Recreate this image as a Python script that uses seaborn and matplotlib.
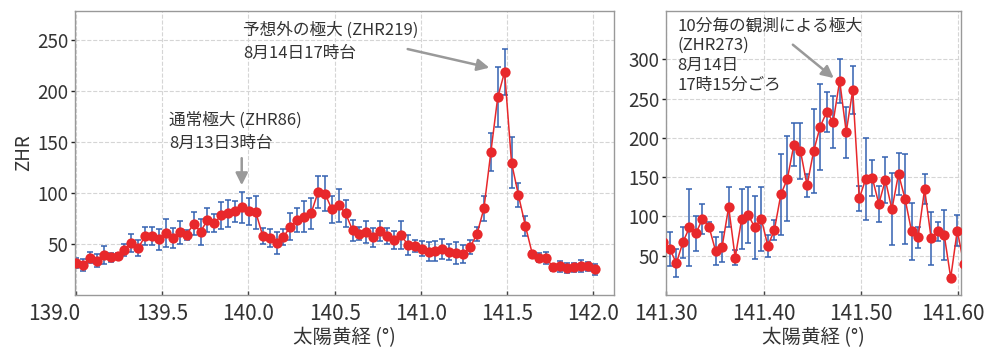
import numpy as np
import matplotlib
matplotlib.use("Agg")
import matplotlib.pyplot as plt
import matplotlib.transforms as mtransforms
import seaborn as sns

# hourly ZHR (left) and 10-minute ZHR (right)
lon_hour = [139.000, 139.040, 139.080, 139.120, 139.160, 139.201, 139.241, 139.281, 139.321, 139.361,
            139.401, 139.441, 139.481, 139.521, 139.561, 139.602, 139.642, 139.682, 139.722, 139.762,
            139.802, 139.842, 139.882, 139.922, 139.962, 140.003, 140.043, 140.083, 140.123, 140.163,
            140.203, 140.243, 140.283, 140.323, 140.363, 140.404, 140.444, 140.484, 140.524, 140.564,
            140.604, 140.644, 140.684, 140.724, 140.764, 140.805, 140.845, 140.885, 140.925, 140.965,
            141.005, 141.045, 141.085, 141.125, 141.165, 141.206, 141.246, 141.286, 141.326, 141.366,
            141.406, 141.446, 141.486, 141.526, 141.566, 141.607, 141.647, 141.687, 141.727, 141.767,
            141.807, 141.847, 141.887, 141.927, 141.967, 142.008]
zhr_hour = [31, 29.5, 36.5, 33.5, 39.5, 37, 38, 44, 51, 46,
            58, 58, 54.5, 61, 56, 61.5, 59, 70, 62, 73.5,
            70.5, 78, 80, 82, 86, 82, 81, 58, 56, 51,
            57, 67, 73.5, 77, 80, 101, 99.5, 84, 88, 80,
            63.5, 60, 62, 56.5, 63, 58, 54, 59, 49, 48,
            45.5, 42.5, 43, 45, 42, 41, 40.5, 47, 60, 85,
            140, 194, 219, 130, 98, 67.5, 40, 36.5, 36.5, 27,
            28, 26.5, 27, 28.5, 28, 25]
err_hour = [5, 6, 5.5, 6.5, 9, 4.5, 3, 6, 9, 8,
            9, 9, 10, 14, 10, 11, 5, 11, 13, 12,
            9, 13, 13, 10.5, 15.5, 13.5, 16, 7.5, 9, 11,
            7.5, 13.5, 12, 15, 15, 16, 17.5, 13, 16, 13,
            10.5, 6.5, 11, 9, 10, 8, 9, 13.5, 9.5, 6,
            7.5, 9, 10, 9.5, 8, 11, 9, 6.5, 7, 12,
            18.5, 29.5, 22.5, 25, 12, 10, 3, 4.5, 6, 3,
            5.5, 5, 4.5, 6, 4.5, 5.5]

lon_10min = [141.2970, 141.3037, 141.3104, 141.3171, 141.3238, 141.3305, 141.3372, 141.3439, 141.3507, 141.3574,
             141.3641, 141.3708, 141.3775, 141.3842, 141.3909, 141.3976, 141.4043, 141.4110, 141.4177, 141.4244,
             141.4311, 141.4378, 141.4446, 141.4513, 141.4580, 141.4647, 141.4714, 141.4781, 141.4848, 141.4915,
             141.4982, 141.5049, 141.5116, 141.5183, 141.5250, 141.5317, 141.5385, 141.5452, 141.5519, 141.5586,
             141.5653, 141.5720, 141.5787, 141.5854, 141.5921, 141.5988, 141.6055]
zhr_10min = [67, 58.5, 40.5, 67, 86, 78.5, 97, 87, 56, 61.5,
             112, 47.5, 97, 102, 86, 97, 62.5, 82.5, 128, 148,
             191.5, 183.5, 139.5, 183, 214, 233, 220.5, 273, 207.5, 261,
             123, 148, 149, 116, 146.5, 109, 154, 122.5, 81, 73.5,
             135, 72, 81, 76.5, 22, 82, 40]
err_10min = [19, 21.5, 17.5, 20, 49.5, 22, 19, 6, 17.5, 19,
             26, 9.5, 38, 36, 40, 40.5, 14, 13, 51, 54,
             27.5, 36, 15, 53.5, 54.5, 26, 33, 28, 32.5, 30,
             16, 52.5, 22.5, 23, 29, 46, 27, 57, 36, 13.5,
             19, 33.5, 12, 32, 3, 20, 17]

left_xticks = [139.0, 139.5, 140.0, 140.5, 141.0, 141.5, 142.0]
left_yticks = [50, 100, 150, 200, 250]
right_xticks = [141.30, 141.40, 141.50, 141.60]
right_yticks = [50, 100, 150, 200, 250, 300]

RED = "#e8282b"
BLUE = "#3462b2"
ARROW = "#999999"
TXT = "#333333"

sns.set_theme(style="whitegrid")
plt.rcParams["font.family"] = ["Noto Sans CJK JP", "DejaVu Sans"]


def draw_series(ax, x, y, e):
    ax.errorbar(x, y, yerr=e, fmt="none", ecolor=BLUE, elinewidth=1.1,
                capsize=2.3, capthick=1.1, zorder=2)
    sns.lineplot(x=x, y=y, ax=ax, color=RED, lw=1.1, marker="o", markersize=7.4,
                 markeredgewidth=0, sort=False, zorder=3)


def style_axes(ax):
    ax.grid(True, color="#d5d5d5", linestyle="--", linewidth=0.8)
    for s in ax.spines.values():
        s.set_color("#999999")
        s.set_linewidth(1.0)
    ax.tick_params(axis="x", direction="in", length=3, width=1, color="#444444",
                   labelsize=15, labelcolor=TXT, pad=6)
    ax.tick_params(axis="y", direction="out", length=3, width=1, color="#222222",
                   labelsize=13.5, labelcolor=TXT, pad=2)
    ax.tick_params(bottom=True, left=True)


fig = plt.figure(figsize=(9.87, 3.47), dpi=100)
ax1 = fig.add_axes([0.076, 0.150, 0.546, 0.819])
ax2 = fig.add_axes([0.675, 0.150, 0.299, 0.819])

draw_series(ax1, lon_hour, zhr_hour, err_hour)
ax1.set_xlim(138.994, 142.12)
ax1.set_ylim(0, 279)
ax1.set_xticks(left_xticks)
ax1.set_xticklabels([f"{v:.1f}" for v in left_xticks])
ax1.set_yticks(left_yticks)
style_axes(ax1)
first = ax1.get_xticklabels()[0]
first.set_horizontalalignment("right")
first.set_transform(first.get_transform() + mtransforms.ScaledTranslation(4 / 100, 0, fig.dpi_scale_trans))
ax1.set_xlabel("太陽黄経 (°)", fontsize=14, color=TXT, labelpad=1)
ax1.set_ylabel("ZHR", fontsize=13.5, color=TXT, labelpad=2)

ax1.text(139.54, 160, "通常極大 (ZHR86)\n8月13日3時台", fontsize=12, color=TXT,
         ha="left", va="center", linespacing=1.5)
ax1.annotate("", xy=(139.961, 105), xytext=(139.961, 137),
             arrowprops=dict(arrowstyle="-|>", color=ARROW, lw=1.8, mutation_scale=18))
ax1.text(139.969, 248.5, "予想外の極大 (ZHR219)\n8月14日17時台", fontsize=12, color=TXT,
         ha="left", va="center", linespacing=1.45)
ax1.annotate("", xy=(141.413, 222.5), xytext=(140.908, 242),
             arrowprops=dict(arrowstyle="-|>", color=ARROW, lw=1.8, mutation_scale=18))

draw_series(ax2, lon_10min, zhr_10min, err_10min)
ax2.set_xlim(141.30, 141.603)
ax2.set_ylim(0, 362)
ax2.set_xticks(right_xticks)
ax2.set_xticklabels([f"{v:.2f}" for v in right_xticks])
ax2.set_yticks(right_yticks)
style_axes(ax2)
last = ax2.get_xticklabels()[-1]
last.set_transform(last.get_transform() + mtransforms.ScaledTranslation(-6 / 100, 0, fig.dpi_scale_trans))
ax2.set_xlabel("太陽黄経 (°)", fontsize=14, color=TXT, labelpad=1)
ax2.set_ylabel("")

ax2.text(141.3113, 305, "10分毎の観測による極大\n(ZHR273)\n8月14日\n17時15分ごろ",
         fontsize=12, color=TXT, ha="left", va="center", linespacing=1.22)
ax2.annotate("", xy=(141.4742, 274), xytext=(141.4278, 321),
             arrowprops=dict(arrowstyle="-|>", color=ARROW, lw=1.8, mutation_scale=18))

fig.savefig("out.png", dpi=100)
